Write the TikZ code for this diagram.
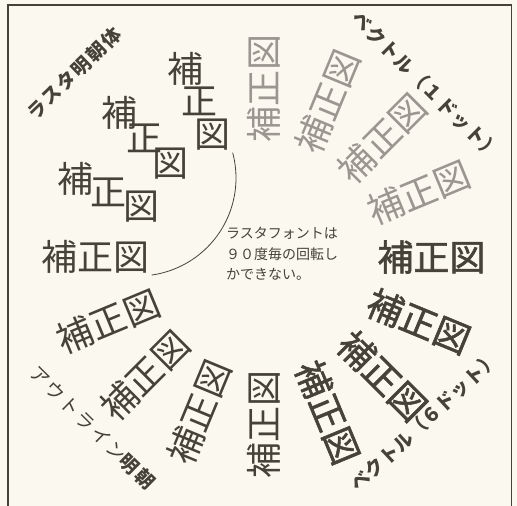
\documentclass[tikz,border=0pt]{standalone}
\usepackage{fontspec}
\setmainfont{Noto Sans CJK JP}
\newfontfamily\JBig{Noto Sans CJK JP}
\newfontfamily\JBigB[FakeBold=1.5]{Noto Sans CJK JP}
\newfontfamily\JLsA[LetterSpace=6]{Noto Sans CJK JP}
\newfontfamily\JLsB[LetterSpace=9]{Noto Sans CJK JP}
\newfontfamily\JLsC[LetterSpace=2]{Noto Sans CJK JP}
\newfontfamily\JLsD[LetterSpace=12]{Noto Sans CJK JP}
\definecolor{bgc}{RGB}{250,248,239}
\definecolor{ink}{RGB}{70,66,58}
\definecolor{thinc}{RGB}{155,150,143}
\begin{document}
\begin{tikzpicture}[x=1pt,y=1pt,
  every node/.style={inner sep=0pt},
  outl/.style={text=ink, font=\JBig\fontsize{36}{36}\selectfont},
  vthin/.style={text=thinc, font=\JBig\fontsize{36}{36}\selectfont},
  vbold/.style={text=ink, font=\JBigB\fontsize{36}{36}\selectfont},
  rast/.style={text=ink, font=\JBig\fontsize{36}{36}\selectfont},
  lbl/.style={text=ink}]
\useasboundingbox (0,0) rectangle (517,506);
\fill[bgc] (0,0) rectangle (517,506);
\draw[ink, line width=1.3pt] (8,0) -- (8,501) -- (511.5,501) -- (511.5,0);
\begin{scope}[shift={(263.5,249)}]
  \node[vbold] (b0) at (0:168) {補正図};
  \foreach \a [count=\i] in {22.5,45,67.5,90}
    \node[vthin, rotate=\a] (t\i) at (\a:168) {補正図};
  \foreach \a [count=\i] in {292.5,315,337.5}
    \node[vbold, rotate=\a] (b\i) at (\a:168) {補正図};
  \foreach \a [count=\i] in {180,202.5,225,247.5,270}
    \node[outl, rotate=\a-180] (o\i) at (\a:168) {補正図};
  \foreach \a [count=\i] in {112.5,135,157.5} {
    \node[rast] (r\i a) at (\a:204) {補};
    \node[rast] (r\i b) at (\a:168) {正};
    \node[rast] (r\i c) at (\a:132) {図};
  }
\end{scope}
\node[lbl, rotate=44, font=\JLsB\fontsize{19}{19}\selectfont\bfseries] (l1) at (74,432.5) {ラスタ明朝体};
\node[lbl, rotate=-45, font=\JLsA\fontsize{19}{19}\selectfont\bfseries] (l2) at (426,420.5) {ベクトル（１ドット）};
\node[lbl, rotate=43, font=\JLsC\fontsize{19}{19}\selectfont\bfseries] (l3) at (424.5,84.5) {ベクトル（６ドット）};
\node[lbl, rotate=-44.5, font=\JLsD\fontsize{19}{19}\selectfont] (l4) at (92.5,78.5) {アウトライン{\bfseries 明朝}};
\node[text=ink, font=\JBig\fontsize{14}{20.5}\selectfont, align=left, anchor=west] (note) at (226,252) {ラスタフォントは\\９０度毎の回転し\\かできない。};
\coordinate (arcc) at (138,328);
\draw[ink, line width=0.8pt] (arcc) ++(15:98) arc[start angle=15, end angle=-82, radius=98];
\end{tikzpicture}
\end{document}
